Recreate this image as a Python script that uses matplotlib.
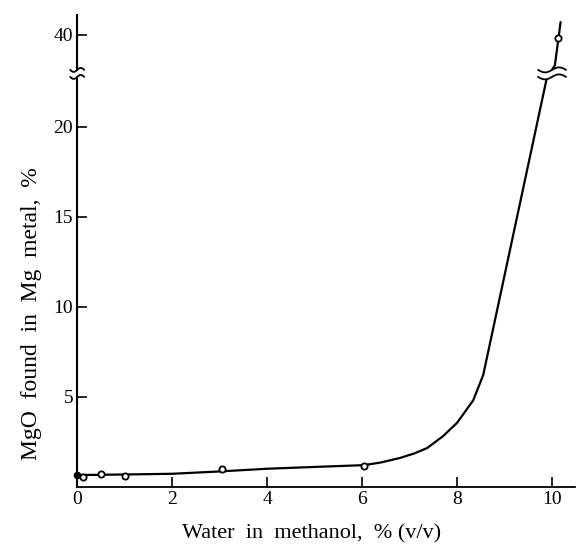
import numpy as np
import matplotlib
matplotlib.use("Agg")
import matplotlib.pyplot as plt
from matplotlib.transforms import IdentityTransform

# curve (hand drawn trend line)
curve_x = [0, 1, 2, 3, 4, 5, 6.04, 6.4, 6.8, 7.1, 7.37, 7.7, 8.0, 8.34, 8.55, 9.89, 10.06, 10.13, 10.18]
curve_y = [0.65, 0.68, 0.72, 0.85, 1.0, 1.1, 1.2, 1.35, 1.6, 1.85, 2.15, 2.8, 3.55, 4.8, 6.2, 22.7, 38.3, 39.7, 40.7]

# measured points
open_x = [0.12, 0.5, 1.0, 3.05, 6.04, 10.13]
open_y = [0.55, 0.72, 0.6, 1.0, 1.17, 39.8]
filled_x = [0.0]
filled_y = [0.66]

yticks = [5, 10, 15, 20, 40]
xticks = [0, 2, 4, 6, 8, 10]

# broken y axis: squeeze 22.7..38.1 into a small gap
brk_lo, brk_hi = 22.7, 38.1
src = [-100, brk_lo, brk_hi, 100]
dst = [-100, brk_lo, brk_lo + 0.5, 100 - (brk_hi - brk_lo) + 0.5]


def fwd(y):
    return np.interp(y, src, dst)


def inv(y):
    return np.interp(y, dst, src)


plt.rcParams['font.family'] = ['Liberation Serif', 'DejaVu Serif']

fig = plt.figure(figsize=(5.76, 5.5), dpi=100)
ax = fig.add_axes([0.134, 0.115, 0.864, 0.858])
ax.set_yscale('function', functions=(fwd, inv))

ax.plot(curve_x, curve_y, color='black', lw=1.6, solid_capstyle='round', zorder=2)
ax.plot(open_x, open_y, 'o', ms=4.5, mfc='white', mec='black', mew=1.3, zorder=3)
ax.plot(filled_x, filled_y, 'o', ms=4.5, color='black', zorder=3, clip_on=False)

ax.set_xlim(0, 10.48)
ax.set_ylim(0, 41.1)
ax.set_xticks(xticks)
ax.set_yticks(yticks)
ax.set_xticklabels([str(v) for v in xticks])
ax.set_yticklabels([str(v) for v in yticks])

for s in ['top', 'right']:
    ax.spines[s].set_visible(False)
ax.spines['left'].set_linewidth(1.5)
ax.spines['bottom'].set_linewidth(1.3)
ax.tick_params(direction='in', length=7, width=1.2, labelsize=14, pad=3)

ax.set_xlabel('Water  in  methanol,  % (v/v)', fontsize=16)
ax.set_ylabel('MgO  found  in  Mg  metal,  %', fontsize=17)
ax.xaxis.set_label_coords(0.47, -0.08)
ax.yaxis.set_label_coords(-0.07, 0.367)


# wavy break marks, drawn in pixels around a data point
def waves(xc, half_w, amp, gap):
    cx, cy_lo = ax.transData.transform((xc, brk_lo))
    _, cy_hi = ax.transData.transform((xc, brk_hi))
    cy = (cy_lo + cy_hi) / 2
    t = np.linspace(-1, 1, 40)
    xs = cx + t * half_w
    wave = amp * np.sin(np.pi * t)
    ax.fill_between(xs, cy - gap / 2 + wave, cy + gap / 2 + wave, color='white',
                    lw=0, transform=IdentityTransform(), clip_on=False, zorder=4)
    for off in (-gap / 2, gap / 2):
        ax.plot(xs, cy + off + wave, color='black', lw=1.3, solid_capstyle='round',
                transform=IdentityTransform(), clip_on=False, zorder=5)


waves(0.0, 7, 2.0, 7)
waves(10.0, 14, 2.5, 7)

fig.savefig('out.png', dpi=100)
